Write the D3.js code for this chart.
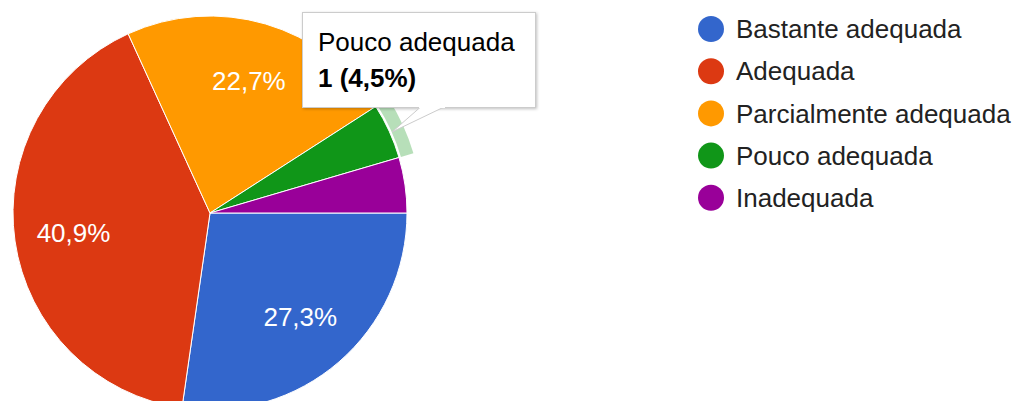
<!DOCTYPE html>
<html>
<head>
<meta charset="utf-8">
<script src="https://cdn.jsdelivr.net/npm/d3@7"></script>
<style>
  body { margin: 0; background: #fff; }
  text { font-family: Arial, "Liberation Sans", sans-serif; }
</style>
</head>
<body>
<script>
const categories = ["Bastante adequada", "Adequada", "Parcialmente adequada", "Pouco adequada", "Inadequada"];
const counts = [6, 9, 5, 1, 1];
const colors = ["#3366cc", "#dc3912", "#ff9900", "#109618", "#990099"];
const hovered = 3;

const width = 1029, height = 401;
const cx = 210, cy = 213, radius = 197;

const total = d3.sum(counts);
const pct = v => (v / total * 100).toFixed(1).replace(".", ",");

const svg = d3.select("body").append("svg")
    .attr("width", width)
    .attr("height", height);

const pie = d3.pie().sort(null)
    .startAngle(Math.PI / 2)
    .endAngle(Math.PI / 2 + 2 * Math.PI);
const arcs = pie(counts);

const arc = d3.arc().innerRadius(0).outerRadius(radius);
const labelArc = d3.arc().innerRadius(radius * 0.7).outerRadius(radius * 0.7);
const ringArc = d3.arc().innerRadius(radius + 2).outerRadius(radius + 15);

const pieGroup = svg.append("g").attr("transform", "translate(" + cx + "," + cy + ")");

pieGroup.selectAll("path.slice")
    .data(arcs)
    .enter().append("path")
      .attr("class", "slice")
      .attr("d", arc)
      .attr("fill", (d, i) => colors[i])
      .attr("stroke", "#fff")
      .attr("stroke-width", 1);

// highlight ring of the hovered slice
pieGroup.append("path")
    .attr("d", ringArc(arcs[hovered]))
    .attr("fill", colors[hovered])
    .attr("fill-opacity", 0.3);

pieGroup.selectAll("text.pct")
    .data(arcs.filter(d => d.endAngle - d.startAngle > 0.5))
    .enter().append("text")
      .attr("class", "pct")
      .attr("transform", d => "translate(" + labelArc.centroid(d) + ")")
      .attr("text-anchor", "middle")
      .attr("dy", "0.35em")
      .attr("fill", "#fff")
      .style("font-size", "26px")
      .text(d => pct(d.value) + "%");

// legend
const legend = svg.append("g").attr("transform", "translate(711,29)");
const rows = legend.selectAll("g")
    .data(categories)
    .enter().append("g")
      .attr("transform", (d, i) => "translate(0," + (i * 42.2) + ")");
rows.append("circle")
    .attr("r", 13)
    .attr("fill", (d, i) => colors[i]);
rows.append("text")
    .attr("x", 25)
    .attr("dy", "0.35em")
    .attr("fill", "#222")
    .style("font-size", "26px")
    .text(d => d);

// tooltip
const tip = svg.append("g");
const defs = svg.append("defs");
const f = defs.append("filter").attr("id", "shadow").attr("x", "-10%").attr("y", "-10%").attr("width", "130%").attr("height", "130%");
f.append("feDropShadow").attr("dx", 1).attr("dy", 1).attr("stdDeviation", 1.5).attr("flood-color", "#000").attr("flood-opacity", 0.25);

tip.append("rect")
    .attr("x", 302.5).attr("y", 12.5)
    .attr("width", 233).attr("height", 95)
    .attr("fill", "#fff")
    .attr("stroke", "#ccc")
    .attr("filter", "url(#shadow)");
tip.append("path")
    .attr("d", "M420,107.5 L392,132 L443,107.5")
    .attr("fill", "#fff")
    .attr("stroke", "#ccc");
tip.append("rect")
    .attr("x", 419).attr("y", 104)
    .attr("width", 26).attr("height", 4)
    .attr("fill", "#fff");
tip.append("text")
    .attr("x", 318).attr("y", 51)
    .attr("fill", "#000")
    .style("font-size", "26px")
    .text(categories[hovered]);
tip.append("text")
    .attr("x", 318).attr("y", 87)
    .attr("fill", "#000")
    .style("font-size", "26px")
    .style("font-weight", "bold")
    .text(counts[hovered] + " (" + pct(counts[hovered]) + "%)");
</script>
</body>
</html>
